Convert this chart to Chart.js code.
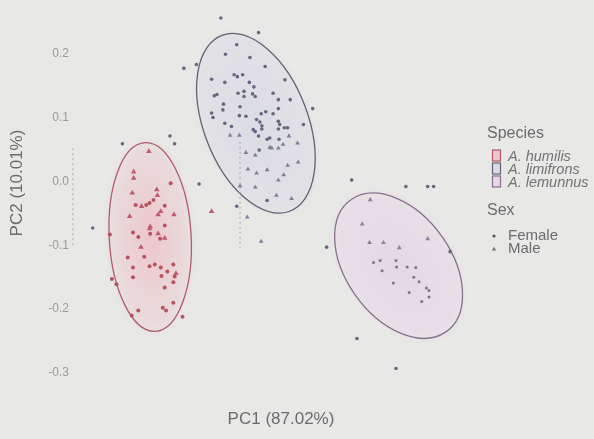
<!DOCTYPE html>
<html>
<head>
<meta charset="utf-8">
<script src="https://cdn.jsdelivr.net/npm/chart.js@4.4.1/dist/chart.umd.min.js"></script>
<style>
  html, body { margin: 0; padding: 0; background: #e8e8e6; }
  canvas { display: block; }
</style>
</head>
<body>
<canvas id="pca" width="594" height="439"></canvas>
<script>
// ---- PCA scores (PC1, PC2) per species and sex ----
const species = ['A. humilis', 'A. limifrons', 'A. lemunnus'];
const sexes = ['Female', 'Male'];
const yTicks = [-0.3, -0.2, -0.1, 0.0, 0.1, 0.2];

const humilisFemalePC1 = [-0.167,-0.193,-0.199,-0.204,-0.220,-0.176,-0.176,-0.224,-0.216,-0.198,-0.183,-0.232,-0.207,-0.191,-0.199,-0.182,-0.163,-0.224,-0.172,-0.161,-0.224,-0.181,-0.163,-0.176,-0.256,-0.249,-0.259,-0.163,-0.179,-0.174,-0.216,-0.226,-0.149];
const humilisFemalePC2 = [-0.003,-0.029,-0.034,-0.037,-0.037,-0.038,-0.069,-0.080,-0.087,-0.082,-0.090,-0.119,-0.118,-0.130,-0.133,-0.135,-0.130,-0.135,-0.141,-0.149,-0.150,-0.148,-0.158,-0.166,-0.153,-0.161,-0.083,-0.190,-0.198,-0.202,-0.202,-0.210,-0.212];
const humilisMalePC1 = [-0.200,-0.223,-0.223,-0.188,-0.225,-0.187,-0.211,-0.229,-0.182,-0.186,-0.162,-0.198,-0.199,-0.186,-0.176,-0.212,-0.159,-0.105];
const humilisMalePC2 = [0.047,0.015,0.005,-0.013,-0.018,-0.022,-0.039,-0.055,-0.047,-0.052,-0.052,-0.071,-0.074,-0.082,-0.089,-0.103,-0.144,-0.047];

const limifronsFemalePC1 = [-0.034,-0.067,-0.084,-0.047,-0.024,-0.071,-0.066,-0.058,-0.105,-0.085,-0.048,0.006,-0.041,-0.101,-0.097,-0.065,-0.056,-0.043,-0.039,-0.012,-0.004,0.014,-0.087,-0.062,-0.088,-0.004,-0.023,-0.012,-0.030,-0.105,-0.103,-0.063,-0.053,-0.037,-0.032,-0.029,-0.004,-0.002,0.005,0.010,0.034,-0.085,-0.075,-0.042,-0.039,-0.029,-0.004,-0.034,-0.021,-0.017,-0.003,-0.033,-0.021,0.048,-0.091,-0.147,-0.128,-0.168,-0.240,-0.161,-0.285,-0.124,-0.067,0.107,0.069,0.256,0.115,0.174,0.189,0.222,0.231,-0.056];
const limifronsFemalePC2 = [0.233,0.214,0.199,0.194,0.180,0.167,0.164,0.167,0.160,0.155,0.155,0.159,0.148,0.134,0.136,0.138,0.133,0.137,0.133,0.138,0.128,0.128,0.121,0.117,0.112,0.114,0.109,0.106,0.106,0.107,0.100,0.103,0.102,0.097,0.093,0.087,0.094,0.089,0.084,0.084,0.089,0.091,0.086,0.081,0.078,0.082,0.082,0.071,0.066,0.068,0.066,0.049,-0.030,0.114,0.256,0.177,0.183,0.071,0.059,0.059,-0.073,-0.004,-0.039,0.002,-0.103,-0.110,-0.246,-0.293,-0.008,-0.008,-0.008,0.141];
const limifronsMalePC1 = [-0.077,-0.063,0.012,0.003,0.025,-0.017,-0.014,-0.004,-0.053,-0.039,-0.050,-0.037,-0.021,0.010,0.026,0.004,-0.004,-0.062,-0.039,-0.007,0.016,-0.051,-0.030];
const limifronsMalePC2 = [0.072,0.072,0.071,0.058,0.060,0.053,0.052,0.052,0.045,0.041,0.019,0.013,0.018,0.025,0.030,0.010,0.002,-0.007,-0.009,-0.022,-0.027,-0.056,-0.094];

const lemunnusFemalePC1 = [0.140,0.150,0.174,0.153,0.175,0.191,0.204,0.170,0.201,0.209,0.220,0.224,0.194,0.224,0.213];
const lemunnusFemalePC2 = [-0.127,-0.124,-0.124,-0.140,-0.134,-0.134,-0.135,-0.159,-0.150,-0.157,-0.167,-0.171,-0.174,-0.181,-0.188];
const lemunnusMalePC1 = [0.123,0.134,0.155,0.179,0.222,0.135];
const lemunnusMalePC2 = [-0.067,-0.096,-0.096,-0.104,-0.090,-0.029];

// 95% confidence ellipses per species (centre, semi-axes, major-axis angle)
const ellipseCenterPC1 = [-0.198, -0.038, 0.178];
const ellipseCenterPC2 = [-0.087, 0.091, -0.132];
const ellipseSemiMajor = [0.148, 0.147, 0.126];
const ellipseSemiMinor = [0.062, 0.079, 0.080];
const ellipseAngleDeg = [93, 110, 124];

// dotted reference segments
const guideAPC1 = [-0.062, -0.062];
const guideAPC2 = [0.062, -0.104];
const guideBPC1 = [-0.315, -0.315];
const guideBPC2 = [0.052, -0.105];

// ---- styling ----
const FONT = '"Liberation Sans", Arial, Helvetica, sans-serif';
const pointColor = ['#b8525f', '#66667e', '#8c6c90'];
const maleColor = ['#bf5b6b', '#7e7e98', '#9a7aa0'];
const strokeColor = ['#b25a69', '#626276', '#86708c'];
const fillInner = ['rgba(242,168,180,0.55)', 'rgba(204,204,228,0.45)', 'rgba(226,198,230,0.50)'];
const fillOuter = ['rgba(236,192,198,0.30)', 'rgba(210,210,228,0.30)', 'rgba(228,208,232,0.35)'];

const zip = (xs, ys) => xs.map((v, i) => ({ x: v, y: ys[i] }));

function drawEllipses(chart) {
  const { ctx, scales: { x, y } } = chart;
  for (let i = 0; i < species.length; i++) {
    const cx = x.getPixelForValue(ellipseCenterPC1[i]);
    const cy = y.getPixelForValue(ellipseCenterPC2[i]);
    const ux = x.getPixelForValue(ellipseCenterPC1[i] + 1) - cx;
    const uy = cy - y.getPixelForValue(ellipseCenterPC2[i] + 1);
    const th = ellipseAngleDeg[i] * Math.PI / 180;
    const a = ellipseSemiMajor[i], b = ellipseSemiMinor[i];

    // soft shaded interior
    ctx.save();
    ctx.translate(cx, cy);
    ctx.scale(ux, -uy);
    ctx.rotate(th);
    ctx.scale(a, b);
    const g = ctx.createRadialGradient(0, 0, 0, 0, 0, 1);
    g.addColorStop(0, fillInner[i]);
    g.addColorStop(1, fillOuter[i]);
    ctx.filter = 'blur(3px)';
    ctx.beginPath();
    ctx.arc(0, 0, 1, 0, Math.PI * 2);
    ctx.fillStyle = g;
    ctx.fill();
    ctx.restore();

    // outline
    ctx.save();
    ctx.save();
    ctx.translate(cx, cy);
    ctx.scale(ux, -uy);
    ctx.rotate(th);
    ctx.beginPath();
    ctx.ellipse(0, 0, a, b, 0, 0, Math.PI * 2);
    ctx.restore();
    ctx.lineWidth = 1.3;
    ctx.strokeStyle = strokeColor[i];
    ctx.stroke();
    ctx.restore();
  }
}

function drawTitlesAndLegend(chart) {
  const ctx = chart.ctx;
  ctx.save();
  ctx.fillStyle = '#6c6c6c';
  ctx.textBaseline = 'middle';

  // axis titles
  ctx.font = '17px ' + FONT;
  ctx.textAlign = 'center';
  const xa = chart.chartArea;
  ctx.fillText('PC1 (87.02%)', (xa.left + xa.right) / 2, 419);
  ctx.save();
  ctx.translate(17, 183);
  ctx.rotate(-Math.PI / 2);
  ctx.fillText('PC2 (10.01%)', 0, 0);
  ctx.restore();

  // species legend
  ctx.textAlign = 'left';
  ctx.font = '16px ' + FONT;
  ctx.fillText('Species', 487, 134);
  const rowY = [157, 170, 183];
  for (let i = 0; i < species.length; i++) {
    ctx.fillStyle = fillInner[i];
    ctx.fillRect(492.5, rowY[i] - 7, 8, 11);
    ctx.strokeStyle = strokeColor[i];
    ctx.lineWidth = 1.2;
    ctx.strokeRect(492.5, rowY[i] - 7, 8, 11);
    ctx.fillStyle = '#727272';
    ctx.font = 'italic 14.5px ' + FONT;
    ctx.fillText(species[i], 508, rowY[i]);
  }

  // sex legend
  ctx.fillStyle = '#6c6c6c';
  ctx.font = '16px ' + FONT;
  ctx.fillText('Sex', 487, 211);
  const sexY = [236, 249];
  ctx.fillStyle = '#555';
  ctx.beginPath();
  ctx.arc(494, sexY[0], 1.6, 0, Math.PI * 2);
  ctx.fill();
  ctx.fillStyle = '#777';
  ctx.beginPath();
  ctx.moveTo(494, sexY[1] - 2.2);
  ctx.lineTo(496.2, sexY[1] + 1.6);
  ctx.lineTo(491.8, sexY[1] + 1.6);
  ctx.closePath();
  ctx.fill();
  ctx.fillStyle = '#6c6c6c';
  ctx.font = '15px ' + FONT;
  for (let j = 0; j < sexes.length; j++) ctx.fillText(sexes[j], 508, sexY[j]);
  ctx.restore();
}

const decor = {
  id: 'decor',
  beforeDraw(chart) {
    const ctx = chart.ctx;
    ctx.save();
    ctx.fillStyle = '#e8e8e6';
    ctx.fillRect(0, 0, chart.width, chart.height);
    ctx.restore();
  },
  beforeDatasetsDraw(chart) { drawEllipses(chart); },
  afterDraw(chart) { drawTitlesAndLegend(chart); }
};

const pointSet = (label, xs, ys, style, radius, color) => ({
  label, data: zip(xs, ys), pointStyle: style, pointRadius: radius,
  backgroundColor: color, borderColor: color, borderWidth: 0, showLine: false
});

const guideSet = (xs, ys) => ({
  label: 'guide', data: zip(xs, ys), showLine: true, pointRadius: 0,
  borderColor: '#a8a8a8', borderWidth: 1, borderDash: [2, 3], clip: false
});

new Chart(document.getElementById('pca'), {
  type: 'scatter',
  data: {
    datasets: [
      pointSet('A. humilis Male', humilisMalePC1, humilisMalePC2, 'triangle', 3.2, maleColor[0]),
      pointSet('A. humilis Female', humilisFemalePC1, humilisFemalePC2, 'circle', 2, pointColor[0]),
      pointSet('A. limifrons Female', limifronsFemalePC1, limifronsFemalePC2, 'circle', 1.8, pointColor[1]),
      pointSet('A. limifrons Male', limifronsMalePC1, limifronsMalePC2, 'triangle', 2.7, maleColor[1]),
      pointSet('A. lemunnus Male', lemunnusMalePC1, lemunnusMalePC2, 'triangle', 2.8, maleColor[2]),
      pointSet('A. lemunnus Female', lemunnusFemalePC1, lemunnusFemalePC2, 'circle', 1.5, pointColor[2]),
      guideSet(guideAPC1, guideAPC2),
      guideSet(guideBPC1, guideBPC2)
    ]
  },
  options: {
    responsive: false,
    animation: false,
    devicePixelRatio: 1,
    layout: { padding: { left: 0, right: 107, top: 0, bottom: 44 } },
    plugins: { legend: { display: false }, tooltip: { enabled: false } },
    scales: {
      x: { type: 'linear', min: -0.3118, max: 0.3118, display: false },
      y: {
        type: 'linear', min: -0.3345, max: 0.2634,
        afterFit(s) { s.width = 75; },
        afterBuildTicks(s) { s.ticks = yTicks.map(v => ({ value: v })); },
        grid: { display: false, drawTicks: false },
        border: { display: false },
        ticks: {
          padding: 6, color: '#9a9a9a',
          font: { size: 12, family: FONT },
          callback: v => Number(v).toFixed(1)
        }
      }
    }
  },
  plugins: [decor]
});
</script>
</body>
</html>
